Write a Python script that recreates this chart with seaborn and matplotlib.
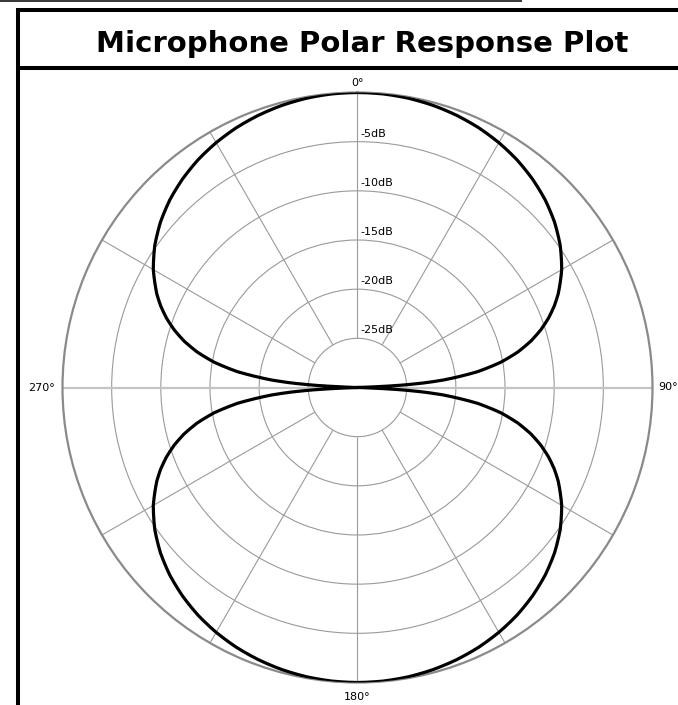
import numpy as np
import matplotlib
matplotlib.use("Agg")
import matplotlib.pyplot as plt
import seaborn as sns
from matplotlib.lines import Line2D

# response of one quadrant (figure-8 / bidirectional), mirrored below
quad_angles = [0, 5, 10, 15, 20, 25, 30, 35, 40, 45, 50, 55, 60, 65, 67.5, 70, 72.5,
               75, 77.5, 80, 82.5, 85, 86, 87, 88, 90]
quad_db = [0.0, -0.03, -0.13, -0.3, -0.54, -0.85, -1.25, -1.73, -2.32, -3.01, -3.84,
           -4.83, -6.02, -7.48, -8.34, -9.32, -10.44, -11.74, -13.29, -15.2, -17.69,
           -21.2, -23.1, -25.6, -29.1, -30.0]

ring_levels = [-25, -20, -15, -10, -5]
ring_labels = ["-25dB", "-20dB", "-15dB", "-10dB", "-5dB"]
spoke_angles = [0, 30, 60, 120, 150, 180, 210, 240, 300, 330]
axis_angles = [90, 270]
angle_labels = ["0°", "90°", "180°", "270°"]
title = "Microphone Polar Response Plot"

W, H = 678, 705


def px(x, y):
    return x / W, 1 - y / H


# build the full turn from the quadrant
qa = np.array(quad_angles)
qd = np.array(quad_db)
theta_deg = np.concatenate([qa, 180 - qa[::-1][1:], 180 + qa[1:], 360 - qa[::-1][1:]])
level_db = np.concatenate([qd, qd[::-1][1:], qd[1:], qd[::-1][1:]])

sns.set_style("white")
plt.rcParams["font.family"] = ["DejaVu Sans"]
plt.rcParams["text.color"] = "black"

fig = plt.figure(figsize=(W / 100, H / 100), dpi=100)
cx, cy, rad = 357.5, 387.5, 295
ax = fig.add_axes([(cx - rad) / W, (H - cy - rad) / H, 2 * rad / W, 2 * rad / H],
                  projection="polar")
ax.set_theta_zero_location("N")
ax.set_theta_direction(-1)
ax.set_ylim(-30, 0)

# rings through the radial grid, spokes drawn so they start at the -25dB ring
ax.set_xticks([])
ax.set_yticks(ring_levels)
ax.set_yticklabels([])
ax.xaxis.grid(False)
ax.yaxis.grid(True, color="#9a9a9a", lw=0.8)
ax.vlines(np.deg2rad(spoke_angles), -25, 0, colors="#9a9a9a", lw=0.8, zorder=1)
ax.vlines(np.deg2rad(axis_angles), -30, 0, colors="#c4c4c4", lw=1.6, zorder=1)
ax.spines["polar"].set_color("#8a8a8a")
ax.spines["polar"].set_linewidth(1.6)

sns.lineplot(x=np.deg2rad(theta_deg), y=level_db, sort=False, estimator=None,
             color="black", lw=2.3, ax=ax, zorder=3)
# let the polar transform bend the segments into arcs between readings
ax.lines[-1].get_path()._interpolation_steps = 12
ax.set_xlabel("")
ax.set_ylabel("")

for lvl, lbl in zip(ring_levels, ring_labels):
    ax.annotate(lbl, xy=(0, lvl), xytext=(3, 3), textcoords="offset pixels",
                ha="left", va="bottom", fontsize=8, color="black")

# compass labels
offsets = [(0, 10, "center"), (6, 0, "left"), (0, -14, "center"), (-8, 0, "right")]
for ang, lbl, (dx, dy, ha) in zip([0, 90, 180, 270], angle_labels, offsets):
    ax.annotate(lbl, xy=(np.deg2rad(ang), 0), xytext=(dx, dy), textcoords="offset pixels",
                ha=ha, va="center", fontsize=8, color="black", annotation_clip=False)

# page frame around the chart
frame = [
    ((0, 1), (522, 1), 1.1),
    ((16, 9.5), (W, 9.5), 2.9),
    ((18, 7.5), (18, H), 2.9),
    ((16, 68), (W, 68), 2.9),
]
for (x0, y0), (x1, y1), lw in frame:
    (fx0, fy0), (fx1, fy1) = px(x0, y0), px(x1, y1)
    fig.add_artist(Line2D([fx0, fx1], [fy0, fy1], color="black", lw=lw,
                          solid_capstyle="butt"))

tx, ty = px(362, 52)
fig.text(tx, ty, title, ha="center", va="baseline", fontsize=21, weight="bold",
         color="black")

fig.savefig("out.png", dpi=100, facecolor="white")
